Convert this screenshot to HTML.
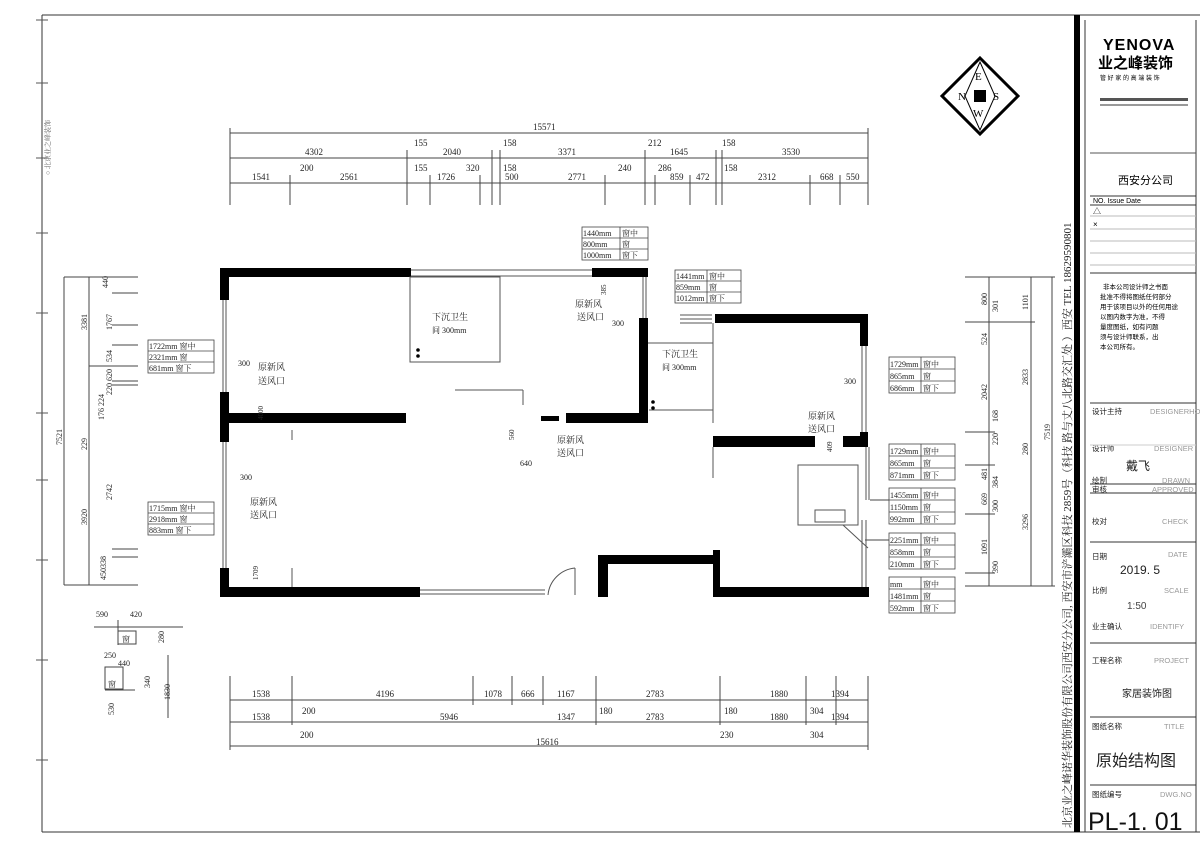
<!DOCTYPE html>
<html><head><meta charset="utf-8"><style>
html,body{margin:0;padding:0;background:#fff;}
svg{display:block;font-family:"Liberation Serif","Noto Serif CJK SC",serif;}
.s{font-family:"Liberation Sans","Noto Sans CJK SC",sans-serif;}
</style></head><body>
<svg width="1200" height="848" viewBox="0 0 1200 848" xmlns="http://www.w3.org/2000/svg">
<rect width="1200" height="848" fill="#fff"/>
<!-- outer frame -->
<g stroke="#333" fill="none" stroke-width="1">
<line x1="42" y1="15" x2="1200" y2="15"/>
<line x1="42" y1="15" x2="42" y2="832"/>
<line x1="42" y1="832" x2="1200" y2="832"/>
<line x1="1085" y1="20" x2="1085" y2="832"/>
<line x1="1196" y1="20" x2="1196" y2="832"/>
</g>
<rect x="1074" y="15" width="6" height="817" fill="#000"/>
<g stroke="#555" stroke-width="1">
<line x1="36" y1="20" x2="48" y2="20"/><line x1="36" y1="83" x2="48" y2="83"/><line x1="36" y1="158" x2="48" y2="158"/>
<line x1="36" y1="233" x2="48" y2="233"/><line x1="36" y1="313" x2="48" y2="313"/><line x1="36" y1="413" x2="48" y2="413"/>
<line x1="36" y1="480" x2="48" y2="480"/><line x1="36" y1="560" x2="48" y2="560"/><line x1="36" y1="660" x2="48" y2="660"/>
<line x1="36" y1="760" x2="48" y2="760"/>
</g>
<text x="0" y="0" font-size="7" fill="#666" transform="translate(50,175) rotate(-90)">○ 北京业之峰装饰</text>
<!-- vertical company text -->
<text font-size="11" fill="#222" transform="translate(1071,828) rotate(-90)">北京业之峰诺华装饰股份有限公司西安分公司, 西安市浐灞区科技 2859号（科技 路与丈八北路交汇处 ）西安 TEL 18629590801</text>

<!-- Title block -->
<g class="s">
<text x="1103" y="50" font-size="16" font-weight="bold" letter-spacing="1">YENOVA</text>
<text x="1098" y="68" font-size="15" font-weight="bold">业之峰装饰</text>
<text x="1100" y="80" font-size="6">管 好 家 的 高 端 装 饰</text>
<rect x="1100" y="98" width="88" height="3" fill="#555"/>
<rect x="1100" y="104" width="88" height="2" fill="#999"/>
<line x1="1090" y1="153" x2="1196" y2="153" stroke="#555"/>
<text x="1118" y="184" font-size="11">西安分公司</text>
<line x1="1090" y1="196" x2="1196" y2="196" stroke="#333"/>
<text x="1093" y="203" font-size="7">NO.  Issue          Date</text>
<line x1="1090" y1="205" x2="1196" y2="205" stroke="#333"/>
<text x="1093" y="214" font-size="8">△</text><text x="1093" y="227" font-size="8">×</text>
<g stroke="#bbb"><line x1="1090" y1="216" x2="1196" y2="216"/><line x1="1090" y1="229" x2="1196" y2="229"/><line x1="1090" y1="241" x2="1196" y2="241"/><line x1="1090" y1="253" x2="1196" y2="253"/><line x1="1090" y1="265" x2="1196" y2="265"/></g>
<line x1="1090" y1="273" x2="1196" y2="273" stroke="#333"/>
<text x="1103" y="289" font-size="6.5">非本公司设计师之书面</text>
<text x="1100" y="299" font-size="6.5">批准不得将图纸任何部分</text>
<text x="1100" y="309" font-size="6.5">用于该项目以外的任何用途</text>
<text x="1100" y="319" font-size="6.5">以图内数字为准，不得</text>
<text x="1100" y="329" font-size="6.5">量度图纸，如有问题</text>
<text x="1100" y="339" font-size="6.5">须与设计师联系，出</text>
<text x="1100" y="349" font-size="6.5">本公司所有。</text>
<g font-size="7.5" fill="#222">
<line x1="1090" y1="403" x2="1196" y2="403" stroke="#333"/>
<text x="1092" y="414">设计主持</text><text x="1150" y="414" fill="#999">DESIGNERHOST</text>
<text x="1092" y="451">设计师</text><text x="1154" y="451" fill="#999">DESIGNER</text>
<text x="1126" y="470" font-size="12">戴飞</text>
<line x1="1090" y1="445" x2="1196" y2="445" stroke="#ccc"/>
<text x="1092" y="483">绘制</text><text x="1162" y="483" fill="#999">DRAWN</text>
<line x1="1090" y1="484" x2="1196" y2="484" stroke="#333"/>
<text x="1092" y="492">审核</text><text x="1152" y="492" fill="#999">APPROVED</text>
<line x1="1090" y1="493" x2="1196" y2="493" stroke="#333"/>
<text x="1092" y="524">校对</text><text x="1162" y="524" fill="#999">CHECK</text>
<line x1="1090" y1="542" x2="1196" y2="542" stroke="#333"/>
<text x="1092" y="559">日期</text><text x="1168" y="557" fill="#999">DATE</text>
<text x="1120" y="574" font-size="12">2019. 5</text>
<text x="1092" y="593">比例</text><text x="1164" y="593" fill="#999">SCALE</text>
<text x="1127" y="609" font-size="10" fill="#444">1:50</text>
<text x="1092" y="629">业主确认</text><text x="1150" y="629" fill="#999">IDENTIFY</text>
<line x1="1090" y1="643" x2="1196" y2="643" stroke="#333"/>
<text x="1092" y="663">工程名称</text><text x="1154" y="663" fill="#999">PROJECT</text>
<text x="1122" y="697" font-size="10">家居装饰图</text>
<line x1="1090" y1="717" x2="1196" y2="717" stroke="#333"/>
<text x="1092" y="729">图纸名称</text><text x="1164" y="729" fill="#999">TITLE</text>
<text x="1096" y="766" font-size="16">原始结构图</text>
<line x1="1090" y1="785" x2="1196" y2="785" stroke="#333"/>
<text x="1092" y="797">图纸编号</text><text x="1160" y="797" fill="#999">DWG.NO</text>
<text x="1088" y="830" font-size="25" fill="#111">PL-1. 01</text>
</g>
</g>

<!-- compass -->
<g>
<polygon points="980,58 1018,96 980,134 942,96" fill="none" stroke="#000" stroke-width="3"/>
<polygon points="980,62 995,96 980,130 965,96" fill="#fff" stroke="#000"/>
<rect x="974" y="90" width="12" height="12" fill="#000"/>
<text x="975" y="80" font-size="11">E</text><text x="958" y="100" font-size="11">N</text>
<text x="993" y="100" font-size="11">S</text><text x="973" y="117" font-size="11">W</text>
</g>

<!-- top dimensions -->
<g stroke="#444" stroke-width="1" fill="none">
<line x1="230" y1="158" x2="868" y2="158"/>
<line x1="230" y1="183" x2="868" y2="183"/>
<line x1="230" y1="133" x2="868" y2="133"/>
<line x1="230" y1="128" x2="230" y2="205"/><line x1="868" y1="128" x2="868" y2="205"/>
<line x1="407" y1="150" x2="407" y2="205"/><line x1="492" y1="150" x2="492" y2="205"/><line x1="500" y1="150" x2="500" y2="205"/>
<line x1="645" y1="150" x2="645" y2="205"/><line x1="716" y1="150" x2="716" y2="205"/><line x1="722" y1="150" x2="722" y2="205"/>
<line x1="290" y1="175" x2="290" y2="205"/><line x1="430" y1="175" x2="430" y2="205"/><line x1="480" y1="175" x2="480" y2="205"/>
<line x1="605" y1="175" x2="605" y2="205"/><line x1="655" y1="175" x2="655" y2="205"/><line x1="690" y1="175" x2="690" y2="205"/>
<line x1="810" y1="175" x2="810" y2="205"/><line x1="840" y1="175" x2="840" y2="205"/>
</g>
<g font-size="9" fill="#222">
<text x="533" y="130">15571</text>
<text x="305" y="155">4302</text><text x="414" y="146">155</text><text x="443" y="155">2040</text><text x="503" y="146">158</text>
<text x="558" y="155">3371</text><text x="648" y="146">212</text><text x="670" y="155">1645</text><text x="722" y="146">158</text><text x="782" y="155">3530</text>
<text x="252" y="180">1541</text><text x="300" y="171">200</text><text x="340" y="180">2561</text><text x="414" y="171">155</text><text x="437" y="180">1726</text>
<text x="466" y="171">320</text><text x="503" y="171">158</text><text x="505" y="180">500</text><text x="568" y="180">2771</text><text x="618" y="171">240</text>
<text x="658" y="171">286</text><text x="670" y="180">859</text><text x="696" y="180">472</text><text x="724" y="171">158</text><text x="758" y="180">2312</text>
<text x="820" y="180">668</text><text x="846" y="180">550</text>
</g>

<!-- bottom dimensions -->
<g stroke="#444" stroke-width="1">
<line x1="230" y1="700" x2="868" y2="700"/>
<line x1="230" y1="722" x2="868" y2="722"/>
<line x1="230" y1="746" x2="868" y2="746"/>
<line x1="230" y1="676" x2="230" y2="750"/><line x1="868" y1="676" x2="868" y2="750"/>
<line x1="292" y1="676" x2="292" y2="725"/><line x1="473" y1="676" x2="473" y2="705"/><line x1="512" y1="676" x2="512" y2="705"/>
<line x1="543" y1="676" x2="543" y2="705"/><line x1="596" y1="676" x2="596" y2="725"/><line x1="720" y1="676" x2="720" y2="725"/>
<line x1="806" y1="676" x2="806" y2="725"/><line x1="836" y1="676" x2="836" y2="725"/>
</g>
<g font-size="9" fill="#222">
<text x="252" y="697">1538</text><text x="376" y="697">4196</text><text x="484" y="697">1078</text><text x="521" y="697">666</text><text x="557" y="697">1167</text>
<text x="646" y="697">2783</text><text x="770" y="697">1880</text><text x="831" y="697">1394</text>
<text x="252" y="720">1538</text><text x="302" y="714">200</text><text x="440" y="720">5946</text><text x="557" y="720">1347</text><text x="599" y="714">180</text>
<text x="646" y="720">2783</text><text x="724" y="714">180</text><text x="770" y="720">1880</text><text x="810" y="714">304</text><text x="831" y="720">1394</text>
<text x="536" y="745">15616</text><text x="300" y="738">200</text><text x="720" y="738">230</text><text x="810" y="738">304</text>
</g>

<!-- left dimensions -->
<g stroke="#444" stroke-width="1">
<line x1="64" y1="277" x2="64" y2="585"/><line x1="89" y1="277" x2="89" y2="585"/>
<line x1="64" y1="277" x2="138" y2="277"/><line x1="64" y1="585" x2="138" y2="585"/>
<line x1="112" y1="293" x2="138" y2="293"/><line x1="112" y1="325" x2="138" y2="325"/><line x1="112" y1="345" x2="138" y2="345"/>
<line x1="89" y1="366" x2="138" y2="366"/><line x1="112" y1="381" x2="138" y2="381"/><line x1="112" y1="385" x2="138" y2="385"/>
<line x1="112" y1="549" x2="138" y2="549"/><line x1="112" y1="557" x2="138" y2="557"/>
</g>
<g font-size="8" fill="#222">
<text transform="translate(62,445) rotate(-90)">7521</text>
<text transform="translate(87,330) rotate(-90)">3381</text>
<text transform="translate(87,450) rotate(-90)">229</text>
<text transform="translate(87,525) rotate(-90)">3920</text>
<text transform="translate(108,288) rotate(-90)">440</text>
<text transform="translate(112,330) rotate(-90)">1767</text>
<text transform="translate(112,362) rotate(-90)">534</text>
<text transform="translate(112,395) rotate(-90)">220 620</text>
<text transform="translate(104,420) rotate(-90)">176 224</text>
<text transform="translate(112,500) rotate(-90)">2742</text>
<text transform="translate(106,580) rotate(-90)">450338</text>
</g>

<!-- right dimensions -->
<g stroke="#444" stroke-width="1">
<line x1="989" y1="277" x2="989" y2="586"/><line x1="1031" y1="277" x2="1031" y2="586"/><line x1="1052" y1="277" x2="1052" y2="586"/>
<line x1="965" y1="277" x2="1055" y2="277"/><line x1="965" y1="322" x2="1035" y2="322"/><line x1="965" y1="432" x2="995" y2="432"/>
<line x1="965" y1="465" x2="995" y2="465"/><line x1="965" y1="514" x2="995" y2="514"/><line x1="965" y1="573" x2="995" y2="573"/>
<line x1="965" y1="586" x2="1055" y2="586"/>
</g>
<g font-size="8" fill="#222">
<text transform="translate(987,305) rotate(-90)">800</text><text transform="translate(998,312) rotate(-90)">301</text>
<text transform="translate(987,345) rotate(-90)">524</text><text transform="translate(987,400) rotate(-90)">2042</text>
<text transform="translate(998,422) rotate(-90)">168</text><text transform="translate(998,445) rotate(-90)">220</text>
<text transform="translate(987,480) rotate(-90)">481</text><text transform="translate(998,488) rotate(-90)">384</text>
<text transform="translate(987,505) rotate(-90)">669</text><text transform="translate(998,512) rotate(-90)">300</text>
<text transform="translate(987,555) rotate(-90)">1091</text><text transform="translate(998,573) rotate(-90)">390</text>
<text transform="translate(1028,310) rotate(-90)">1101</text><text transform="translate(1028,385) rotate(-90)">2833</text>
<text transform="translate(1028,455) rotate(-90)">280</text><text transform="translate(1028,530) rotate(-90)">3296</text>
<text transform="translate(1050,440) rotate(-90)">7519</text>
</g>

<!-- window tables -->
<g font-size="8" fill="#222" stroke-width="0.8">
<g transform="translate(582,227)"><rect width="66" height="33" fill="none" stroke="#444"/><line x1="0" y1="11" x2="66" y2="11" stroke="#444"/><line x1="0" y1="22" x2="66" y2="22" stroke="#444"/><line x1="38" y1="0" x2="38" y2="33" stroke="#444"/><text x="1" y="9">1440mm</text><text x="40" y="9">窗中</text><text x="1" y="20">800mm</text><text x="40" y="20">窗</text><text x="1" y="31">1000mm</text><text x="40" y="31">窗下</text></g>
<g transform="translate(675,270)"><rect width="66" height="33" fill="none" stroke="#444"/><line x1="0" y1="11" x2="66" y2="11" stroke="#444"/><line x1="0" y1="22" x2="66" y2="22" stroke="#444"/><line x1="32" y1="0" x2="32" y2="33" stroke="#444"/><text x="1" y="9">1441mm</text><text x="34" y="9">窗中</text><text x="1" y="20">859mm</text><text x="34" y="20">窗</text><text x="1" y="31">1012mm</text><text x="34" y="31">窗下</text></g>
<g transform="translate(148,340)"><rect width="66" height="33" fill="none" stroke="#444"/><line x1="0" y1="11" x2="66" y2="11" stroke="#444"/><line x1="0" y1="22" x2="66" y2="22" stroke="#444"/><text x="1" y="9">1722mm 窗中</text><text x="1" y="20">2321mm 窗</text><text x="1" y="31">681mm  窗下</text></g>
<g transform="translate(148,502)"><rect width="66" height="33" fill="none" stroke="#444"/><line x1="0" y1="11" x2="66" y2="11" stroke="#444"/><line x1="0" y1="22" x2="66" y2="22" stroke="#444"/><text x="1" y="9">1715mm 窗中</text><text x="1" y="20">2918mm 窗</text><text x="1" y="31">883mm  窗下</text></g>
<g transform="translate(889,357)"><rect width="66" height="36" fill="none" stroke="#444"/><line x1="0" y1="12" x2="66" y2="12" stroke="#444"/><line x1="0" y1="24" x2="66" y2="24" stroke="#444"/><line x1="32" y1="0" x2="32" y2="36" stroke="#444"/><text x="1" y="10">1729mm</text><text x="34" y="10">窗中</text><text x="1" y="22">865mm</text><text x="34" y="22">窗</text><text x="1" y="34">686mm</text><text x="34" y="34">窗下</text></g>
<g transform="translate(889,444)"><rect width="66" height="36" fill="none" stroke="#444"/><line x1="0" y1="12" x2="66" y2="12" stroke="#444"/><line x1="0" y1="24" x2="66" y2="24" stroke="#444"/><line x1="32" y1="0" x2="32" y2="36" stroke="#444"/><text x="1" y="10">1729mm</text><text x="34" y="10">窗中</text><text x="1" y="22">865mm</text><text x="34" y="22">窗</text><text x="1" y="34">871mm</text><text x="34" y="34">窗下</text></g>
<g transform="translate(889,488)"><rect width="66" height="36" fill="none" stroke="#444"/><line x1="0" y1="12" x2="66" y2="12" stroke="#444"/><line x1="0" y1="24" x2="66" y2="24" stroke="#444"/><line x1="32" y1="0" x2="32" y2="36" stroke="#444"/><text x="1" y="10">1455mm</text><text x="34" y="10">窗中</text><text x="1" y="22">1150mm</text><text x="34" y="22">窗</text><text x="1" y="34">992mm</text><text x="34" y="34">窗下</text></g>
<g transform="translate(889,533)"><rect width="66" height="36" fill="none" stroke="#444"/><line x1="0" y1="12" x2="66" y2="12" stroke="#444"/><line x1="0" y1="24" x2="66" y2="24" stroke="#444"/><line x1="32" y1="0" x2="32" y2="36" stroke="#444"/><text x="1" y="10">2251mm</text><text x="34" y="10">窗中</text><text x="1" y="22">858mm</text><text x="34" y="22">窗</text><text x="1" y="34">210mm</text><text x="34" y="34">窗下</text></g>
<g transform="translate(889,577)"><rect width="66" height="36" fill="none" stroke="#444"/><line x1="0" y1="12" x2="66" y2="12" stroke="#444"/><line x1="0" y1="24" x2="66" y2="24" stroke="#444"/><line x1="32" y1="0" x2="32" y2="36" stroke="#444"/><text x="1" y="10">mm</text><text x="34" y="10">窗中</text><text x="1" y="22">1481mm</text><text x="34" y="22">窗</text><text x="1" y="34">592mm</text><text x="34" y="34">窗下</text></g>
</g>
<g stroke="#444"><line x1="870" y1="500" x2="889" y2="500"/><line x1="865" y1="540" x2="889" y2="540"/></g>

<!-- walls -->
<g fill="#000">
<rect x="220" y="268" width="191" height="9"/>
<rect x="592" y="268" width="56" height="9"/>
<rect x="639" y="318" width="9" height="105"/>
<rect x="220" y="413" width="186" height="10"/>
<rect x="566" y="413" width="82" height="10"/>
<rect x="541" y="416" width="18" height="5"/>
<rect x="220" y="268" width="9" height="32"/>
<rect x="220" y="392" width="9" height="50"/>
<rect x="220" y="568" width="9" height="29"/>
<rect x="220" y="587" width="200" height="10"/>
<rect x="598" y="555" width="10" height="42"/>
<rect x="598" y="555" width="120" height="9"/>
<rect x="713" y="550" width="7" height="47"/>
<rect x="713" y="587" width="156" height="10"/>
<rect x="715" y="314" width="153" height="9"/>
<rect x="860" y="314" width="8" height="32"/>
<rect x="860" y="432" width="8" height="15"/>
<rect x="713" y="436" width="102" height="11"/>
<rect x="843" y="436" width="25" height="11"/>
</g>
<g stroke="#555" fill="none" stroke-width="1">
<line x1="411" y1="270" x2="592" y2="270"/><line x1="411" y1="276" x2="592" y2="276"/>
<line x1="223" y1="300" x2="223" y2="392"/><line x1="226" y1="300" x2="226" y2="392"/>
<line x1="223" y1="442" x2="223" y2="568"/><line x1="226" y1="442" x2="226" y2="568"/>
<line x1="862" y1="346" x2="862" y2="432"/><line x1="866" y1="346" x2="866" y2="432"/>
<line x1="866" y1="447" x2="866" y2="500"/><line x1="869" y1="447" x2="869" y2="500"/>
<line x1="862" y1="520" x2="862" y2="587"/><line x1="866" y1="520" x2="866" y2="587"/>
<line x1="420" y1="590" x2="545" y2="590"/><line x1="420" y1="594" x2="545" y2="594"/>
<line x1="643" y1="277" x2="643" y2="318"/><line x1="646" y1="277" x2="646" y2="318"/>
<rect x="410" y="277" width="90" height="85"/>
<line x1="500" y1="277" x2="500" y2="362"/>
<rect x="500" y="277" width="0" height="0"/>
<line x1="410" y1="362" x2="433" y2="362"/>
<line x1="455" y1="390" x2="523" y2="390"/><line x1="523" y1="390" x2="523" y2="405"/>
<line x1="648" y1="343" x2="713" y2="343"/><line x1="713" y1="323" x2="713" y2="423"/>
<line x1="649" y1="410" x2="713" y2="410"/>
<line x1="713" y1="447" x2="713" y2="478"/>
<rect x="798" y="465" width="60" height="60"/>
<rect x="815" y="510" width="30" height="12"/>
<line x1="843" y1="525" x2="868" y2="548"/>
<line x1="292" y1="568" x2="292" y2="587"/><line x1="292" y1="430" x2="292" y2="440"/>
<path d="M548 595 A30 30 0 0 1 575 568"/><line x1="575" y1="568" x2="575" y2="595"/>
<line x1="680" y1="323" x2="712" y2="323"/><line x1="680" y1="319" x2="712" y2="319"/><line x1="680" y1="315" x2="712" y2="315"/>
</g>
<!-- room labels -->
<g font-size="9" fill="#222">
<text x="432" y="320">下沉卫生</text><text x="432" y="333" font-size="8">间 300mm</text>
<text x="662" y="357">下沉卫生</text><text x="662" y="370" font-size="8">间 300mm</text>
<text x="575" y="307">原新风</text><text x="577" y="320">送风口</text><text x="612" y="326" font-size="8">300</text>
<text x="258" y="370">原新风</text><text x="258" y="384">送风口</text><text x="238" y="366" font-size="8">300</text>
<text x="250" y="505">原新风</text><text x="250" y="518">送风口</text><text x="240" y="480" font-size="8">300</text>
<text x="557" y="443">原新风</text><text x="557" y="456">送风口</text><text x="520" y="466" font-size="8">640</text>
<text x="808" y="419">原新风</text><text x="808" y="432">送风口</text><text x="844" y="384" font-size="8">300</text>
</g>
<g font-size="7" fill="#222">
<text transform="translate(263,420) rotate(-90)">4000</text>
<text transform="translate(258,580) rotate(-90)">1709</text>
<text transform="translate(514,440) rotate(-90)">560</text>
<text transform="translate(606,295) rotate(-90)">385</text>
<text transform="translate(832,452) rotate(-90)">409</text>
</g>
<g fill="#000"><circle cx="418" cy="350" r="1.8"/><circle cx="418" cy="356" r="1.8"/><circle cx="653" cy="402" r="1.8"/><circle cx="653" cy="408" r="1.8"/></g>

<!-- lower left detail -->
<g stroke="#444" fill="none">
<line x1="94" y1="627" x2="183" y2="627"/>
<rect x="118" y="631" width="18" height="13"/>
<line x1="118" y1="620" x2="118" y2="645"/>
<rect x="105" y="667" width="18" height="22"/><line x1="105" y1="690" x2="135" y2="690"/>
<line x1="168" y1="655" x2="168" y2="718"/>
</g>
<g font-size="8" fill="#222">
<text x="96" y="617">590</text><text x="130" y="617">420</text><text transform="translate(164,643) rotate(-90)">280</text>
<text x="122" y="642">窗</text><text x="104" y="658">250</text><text x="118" y="666">440</text>
<text x="108" y="687">窗</text><text transform="translate(150,688) rotate(-90)">340</text>
<text transform="translate(170,700) rotate(-90)">1830</text><text transform="translate(114,715) rotate(-90)">530</text>
</g>
</svg>
</body></html>
